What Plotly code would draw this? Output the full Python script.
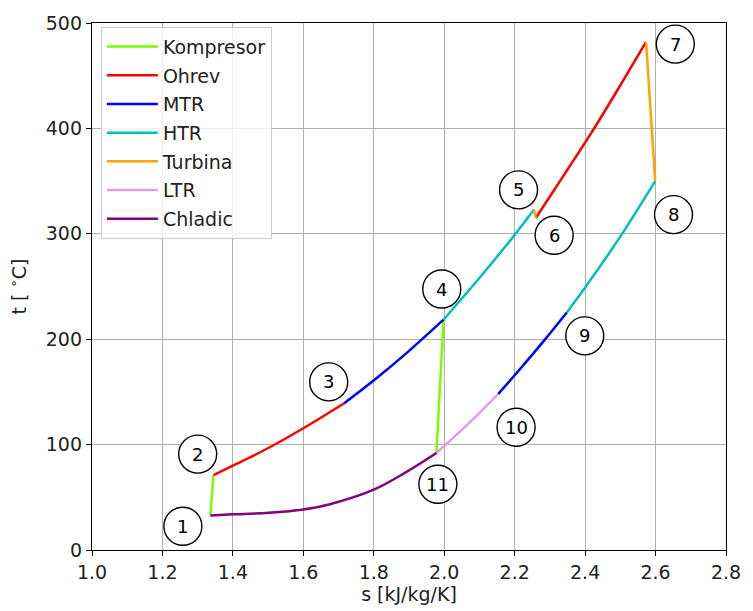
import plotly.graph_objects as go

# ---- data ----
komp_a_s = [1.336, 1.345]
komp_a_t = [32.8, 71.0]
komp_b_s = [1.978, 1.998]
komp_b_t = [92.0, 218.5]

ohrev_a_s = [1.345, 1.400, 1.502, 1.600, 1.715]
ohrev_a_t = [71.0, 80.0, 97.0, 115.5, 139.0]
ohrev_b_s = [2.260, 2.315, 2.418, 2.502, 2.573]
ohrev_b_t = [315.0, 343.0, 396.0, 442.0, 482.0]

mtr_a_s = [1.715, 1.804, 1.897, 1.998]
mtr_a_t = [139.0, 162.0, 188.0, 218.5]
mtr_b_s = [2.348, 2.278, 2.200, 2.153]
mtr_b_t = [225.4, 196.5, 165.8, 147.9]

htr_a_s = [1.998, 2.101, 2.200, 2.255]
htr_a_t = [218.5, 258.5, 299.0, 323.0]
htr_b_s = [2.599, 2.502, 2.402, 2.348]
htr_b_t = [350.0, 298.5, 250.0, 225.4]

turb_a_s = [2.255, 2.260]
turb_a_t = [323.0, 315.0]
turb_b_s = [2.573, 2.599]
turb_b_t = [482.0, 350.0]

ltr_s = [2.153, 2.074, 1.978]
ltr_t = [147.9, 121.5, 92.0]

chl_s = [1.978, 1.887, 1.800, 1.673, 1.600, 1.502, 1.400, 1.336]
chl_t = [92.0, 72.9, 57.2, 43.2, 38.5, 35.4, 33.8, 32.8]

label_text = ["1", "2", "3", "4", "5", "6", "7", "8", "9", "10", "11"]
label_s = [1.258, 1.300, 1.672, 1.993, 2.211, 2.312, 2.656, 2.651, 2.399, 2.204, 1.982]
label_t = [22.5, 91.0, 159.5, 247.6, 341.7, 298.6, 480.0, 318.2, 203.2, 116.5, 62.4]

series = [
    ("Kompresor", "#7CFC00", [(komp_a_s, komp_a_t), (komp_b_s, komp_b_t)]),
    ("Ohrev", "#FF0000", [(ohrev_a_s, ohrev_a_t), (ohrev_b_s, ohrev_b_t)]),
    ("MTR", "#0000FF", [(mtr_a_s, mtr_a_t), (mtr_b_s, mtr_b_t)]),
    ("HTR", "#00BFBF", [(htr_a_s, htr_a_t), (htr_b_s, htr_b_t)]),
    ("Turbina", "#FFA500", [(turb_a_s, turb_a_t), (turb_b_s, turb_b_t)]),
    ("LTR", "#DDA0DD", [(ltr_s, ltr_t)]),
    ("Chladic", "#800080", [(chl_s, chl_t)]),
]

FONT = "DejaVu Sans"
FS = 19
fig = go.Figure()
for name, color, segs in series:
    for i, (xs, ys) in enumerate(segs):
        fig.add_trace(go.Scatter(
            x=xs, y=ys, mode="lines", name=name, legendgroup=name,
            showlegend=(i == 0),
            line=dict(color=color, width=2.5, shape="spline", smoothing=1.0),
        ))

shapes = []
annotations = []
for txt, sx, ty in zip(label_text, label_s, label_t):
    shapes.append(dict(type="circle", xref="x", yref="y", xsizemode="pixel", ysizemode="pixel",
                       xanchor=sx, yanchor=ty, x0=-19, x1=19, y0=-19, y1=19,
                       line=dict(color="black", width=1.4), fillcolor="white", layer="above"))
    annotations.append(dict(x=sx, y=ty, xref="x", yref="y", text=txt, showarrow=False,
                            font=dict(family=FONT, size=18, color="black")))

axis_common = dict(showline=True, linecolor="black", linewidth=1.3, mirror=True,
                   ticks="outside", ticklen=5, tickwidth=1.3, tickcolor="black",
                   showgrid=True, gridcolor="#b0b0b0", gridwidth=1.2, zeroline=False,
                   tickfont=dict(family=FONT, size=FS, color="#222222"))

fig.update_layout(
    width=753, height=611,
    margin=dict(l=92, r=16, t=17, b=59),
    paper_bgcolor="white", plot_bgcolor="white",
    font=dict(family=FONT, size=FS, color="#222222"),
    xaxis=dict(range=[1.0, 2.8], dtick=0.2, tickformat=".1f",
               title=dict(text="s [kJ/kg/K]", standoff=3, font=dict(family=FONT, size=FS)),
               **axis_common),
    yaxis=dict(range=[0, 500], dtick=100,
               title=dict(text="t [ <sup>∘</sup>C]", standoff=14, font=dict(family=FONT, size=FS)),
               **axis_common),
    legend=dict(x=0.014, y=0.993, xanchor="left", yanchor="top",
                bgcolor="rgba(255,255,255,0.8)", bordercolor="#cccccc", borderwidth=1,
                font=dict(family=FONT, size=FS, color="#222222"),
                tracegroupgap=1, traceorder="grouped", itemwidth=51),
    shapes=shapes, annotations=annotations,
)

fig.write_html("out.html")
